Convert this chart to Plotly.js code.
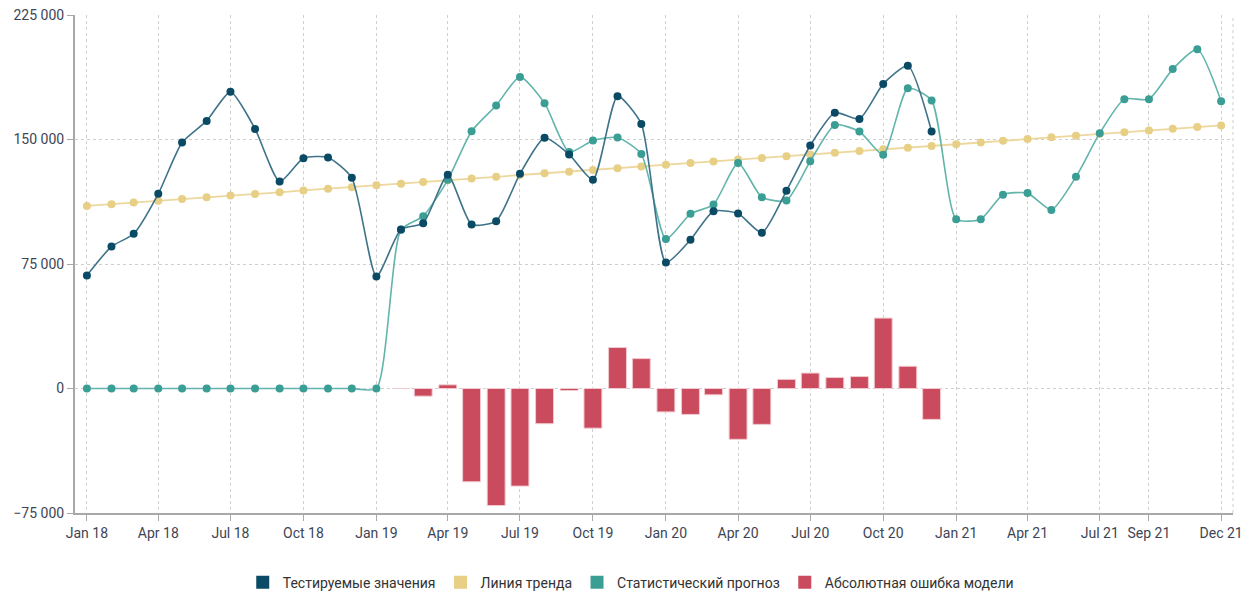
<!DOCTYPE html>
<html>
<head>
<meta charset="utf-8">
<script src="https://cdn.plot.ly/plotly-3.0.1.min.js"></script>
<style>
html,body{margin:0;padding:0;background:#fff;}
#chart{width:1249px;height:591px;}
</style>
</head>
<body>
<div id="chart"></div>
<script>
// ---- Data ----
const months = [
 "2018-01-01","2018-02-01","2018-03-01","2018-04-01","2018-05-01","2018-06-01","2018-07-01","2018-08-01","2018-09-01","2018-10-01","2018-11-01","2018-12-01",
 "2019-01-01","2019-02-01","2019-03-01","2019-04-01","2019-05-01","2019-06-01","2019-07-01","2019-08-01","2019-09-01","2019-10-01","2019-11-01","2019-12-01",
 "2020-01-01","2020-02-01","2020-03-01","2020-04-01","2020-05-01","2020-06-01","2020-07-01","2020-08-01","2020-09-01","2020-10-01","2020-11-01","2020-12-01",
 "2021-01-01","2021-02-01","2021-03-01","2021-04-01","2021-05-01","2021-06-01","2021-07-01","2021-08-01","2021-09-01","2021-10-01","2021-11-01","2021-12-01"
];

// Тестируемые значения (Jan 18 – Dec 20)
const testedValues = [
 68100, 85500, 93200, 117300, 148200, 161200, 178700, 156400, 124700, 138700, 139200, 126900,
 67500, 95800, 99600, 128700, 98800, 100800, 129300, 151000, 141000, 125700, 176100, 159400,
 75900, 89600, 106800, 105400, 93800, 119100, 146400, 166100, 162400, 183500, 194400, 154800
];

// Линия тренда (Jan 18 – Dec 21)
const trendValues = [
 110000, 111000, 112100, 113100, 114100, 115200, 116200, 117200, 118200, 119300, 120300, 121300,
 122400, 123400, 124400, 125500, 126500, 127500, 128600, 129600, 130600, 131700, 132700, 133700,
 134800, 135800, 136800, 137900, 138900, 139900, 141000, 142000, 143000, 144100, 145100, 146100,
 147200, 148200, 149200, 150300, 151300, 152300, 153400, 154400, 155400, 156500, 157500, 158500
];

// Статистический прогноз (Jan 18 – Dec 21)
const forecastValues = [
 0, 0, 0, 0, 0, 0, 0, 0, 0, 0, 0, 0,
 0, 95600, 103800, 125700, 155000, 170500, 187700, 171900, 142400, 149400, 151200, 141200,
 90000, 105200, 110800, 135900, 115200, 113300, 136900, 158800, 154800, 140800, 180900, 173500,
 102000, 102000, 116700, 117700, 107600, 127500, 153800, 174300, 174300, 192400, 204400, 173100
];

// Абсолютная ошибка модели (Feb 19 – Dec 20)
const errorMonths = months.slice(13, 36);
const errorValues = [
 0, -4600, 2200, -56200, -70500, -58800, -21200, -1200, -23900, 24700, 18000,
 -14100, -15600, -3800, -30600, -21600, 5500, 9300, 6600, 7200, 42400, 13400, -18600
];

// Axis ticks
const tickDates = ["2018-01-01","2018-04-01","2018-07-01","2018-10-01","2019-01-01","2019-04-01","2019-07-01","2019-10-01",
 "2020-01-01","2020-04-01","2020-07-01","2020-10-01","2021-01-01","2021-04-01","2021-07-01","2021-09-01","2021-12-01"];
const tickLabels = ["Jan 18","Apr 18","Jul 18","Oct 18","Jan 19","Apr 19","Jul 19","Oct 19",
 "Jan 20","Apr 20","Jul 20","Oct 20","Jan 21","Apr 21","Jul 21","Sep 21","Dec 21"];

const seriesNames = ["Тестируемые значения","Линия тренда","Статистический прогноз","Абсолютная ошибка модели"];

// ---- Styles ----
const C_TEST = "#0b4a64", C_TEST_LINE = "#3f7389";
const C_TREND = "#e8cf86", C_TREND_LINE = "#ecd79c";
const C_FC = "#3a9e95", C_FC_LINE = "#62b4ac";
const C_ERR = "#c94b5d";

const traces = [
 {type:"bar", x:errorMonths, y:errorValues, width:1.95e9, showlegend:false,
  marker:{color:C_ERR, line:{color:"#f2c9cf", width:1}}, hoverinfo:"x+y"},
 {type:"scatter", mode:"lines+markers", x:months, y:trendValues, showlegend:false,
  line:{color:C_TREND_LINE, width:1.8}, marker:{color:C_TREND, size:8}},
 {type:"scatter", mode:"lines+markers", x:months, y:forecastValues, showlegend:false,
  line:{color:C_FC_LINE, width:1.6, shape:"spline", smoothing:0.6}, marker:{color:C_FC, size:8}},
 {type:"scatter", mode:"lines+markers", x:months.slice(0, testedValues.length), y:testedValues, showlegend:false,
  line:{color:C_TEST_LINE, width:1.6, shape:"spline", smoothing:0.6}, marker:{color:C_TEST, size:8}},
];
// legend entries (square swatches)
[C_TEST, C_TREND, C_FC, C_ERR].forEach((c, i) => {
  traces.push({type:"scatter", mode:"markers", x:[null], y:[null], name:seriesNames[i],
    showlegend:true, marker:{color:c, symbol:"square", size:13}});
});

const layout = {
  width:1249, height:591,
  margin:{l:75, r:16, t:15, b:78},
  paper_bgcolor:"#fff", plot_bgcolor:"#fff",
  separators:", ",
  font:{family:"Roboto, Arial, sans-serif", size:14, color:"#444"},
  bargap:0,
  xaxis:{
    type:"date",
    range:["2017-12-17","2021-12-16"],
    tickvals:tickDates, ticktext:tickLabels,
    showgrid:true, gridcolor:"#cfcfcf", griddash:"3px,3px", gridwidth:1,
    showline:true, linecolor:"#a8a8a8", linewidth:2,
    ticks:"outside", ticklen:6, tickcolor:"#a8a8a8", tickwidth:1,
    zeroline:false, fixedrange:true, automargin:false,
    tickfont:{size:14, color:"#3d4555"}
  },
  yaxis:{
    range:[-75000, 225000], dtick:75000, tick0:0,
    tickformat:",d",
    showgrid:true, gridcolor:"#cfcfcf", griddash:"3px,3px", gridwidth:1,
    showline:true, linecolor:"#a8a8a8", linewidth:2,
    ticks:"outside", ticklen:6, tickcolor:"#a8a8a8", tickwidth:1,
    zeroline:false, fixedrange:true, automargin:false,
    tickfont:{size:14, color:"#3d4555"}
  },
  legend:{orientation:"h", xref:"container", yref:"container",
    x:0.505, xanchor:"center", y:0.014, yanchor:"middle",
    font:{size:14, color:"#333"}, itemclick:false, itemdoubleclick:false},
  shapes:[
    {type:"line", xref:"paper", yref:"paper", x0:1, x1:1, y0:0, y1:1,
     line:{color:"#cfcfcf", width:1, dash:"3px,3px"}}
  ],
  showlegend:true
};

Plotly.newPlot("chart", traces, layout, {displayModeBar:false, staticPlot:true});
</script>
</body>
</html>
